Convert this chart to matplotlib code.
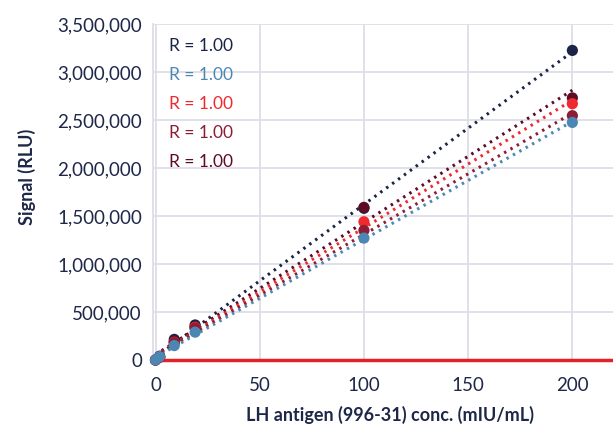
import numpy as np
import matplotlib.pyplot as plt
from matplotlib.ticker import FuncFormatter

plt.rcParams['font.family'] = ['Lato', 'DejaVu Sans']

# LH antigen concentrations (mIU/mL)
conc = [0, 2, 9, 19, 100, 200]

# Signal (RLU) for each run
run_navy = [0, 40000, 215000, 365000, 1580000, 3225000]
run_blue = [0, 35000, 150000, 290000, 1270000, 2475000]
run_red = [0, 30000, 185000, 340000, 1440000, 2670000]
run_maroon = [0, 30000, 180000, 330000, 1350000, 2545000]
run_wine = [0, 30000, 190000, 345000, 1590000, 2730000]

series = [
    (run_navy, '#1b2446'),
    (run_wine, '#5e0b26'),
    (run_red, '#ee2a2f'),
    (run_maroon, '#8c1d34'),
    (run_blue, '#4b87b2'),
]
# order of the R labels, top to bottom
label_order = [run_navy, run_blue, run_red, run_maroon, run_wine]
label_colors = ['#1b2446', '#4b87b2', '#ee2a2f', '#8c1d34', '#5e0b26']

text_col = '#1d2748'
grid_col = '#dedde6'

fig = plt.figure(figsize=(6.13, 4.28), dpi=100)
ax = fig.add_axes([0.2496, 0.1589, 0.7504, 0.785])

x = np.array(conc, dtype=float)
for vals, col in series:
    y = np.array(vals, dtype=float)
    slope, icpt = np.polyfit(x, y, 1)
    xs = np.array([0, 200])
    ax.plot(xs, slope * xs + icpt, color=col, lw=2.2,
            linestyle=(0, (0.8, 1.6)), zorder=3)
    ax.scatter(x, y, s=65, color=col, zorder=4, clip_on=False,
               edgecolors='none')

for i, (vals, col) in enumerate(zip(label_order, label_colors)):
    r = np.corrcoef(conc, vals)[0, 1]
    ax.text(0.034, 0.935 - i * 0.0865, f'R = {r:.2f}', color=col,
            fontsize=12.5, transform=ax.transAxes, va='center', ha='left')

ax.set_xlim(-1.2, 219.5)
ax.set_ylim(0, 3500000)
ax.set_xticks([0, 50, 100, 150, 200])
ax.set_yticks(np.arange(0, 3500001, 500000))
ax.yaxis.set_major_formatter(FuncFormatter(lambda v, p: f'{int(v):,}'))
ax.grid(True, color=grid_col, lw=1.3, zorder=0)
ax.set_axisbelow(True)
ax.tick_params(length=0, labelsize=13.5, labelcolor=text_col)
ax.tick_params(axis='x', pad=12)
ax.tick_params(axis='y', pad=8)

for side in ['top', 'right']:
    ax.spines[side].set_visible(False)
ax.spines['left'].set_color(grid_col)
ax.spines['left'].set_linewidth(1.3)
ax.spines['bottom'].set_color('#e32228')
ax.spines['bottom'].set_linewidth(2.5)

ax.set_xlabel('LH antigen (996-31) conc. (mIU/mL)', fontsize=13,
              fontweight='bold', color=text_col)
ax.xaxis.set_label_coords(0.515, -0.136)
ax.set_ylabel('Signal (RLU)', fontsize=13, fontweight='bold',
              color=text_col)
ax.yaxis.set_label_coords(-0.255, 0.545)

fig.savefig('out.png', dpi=100)
